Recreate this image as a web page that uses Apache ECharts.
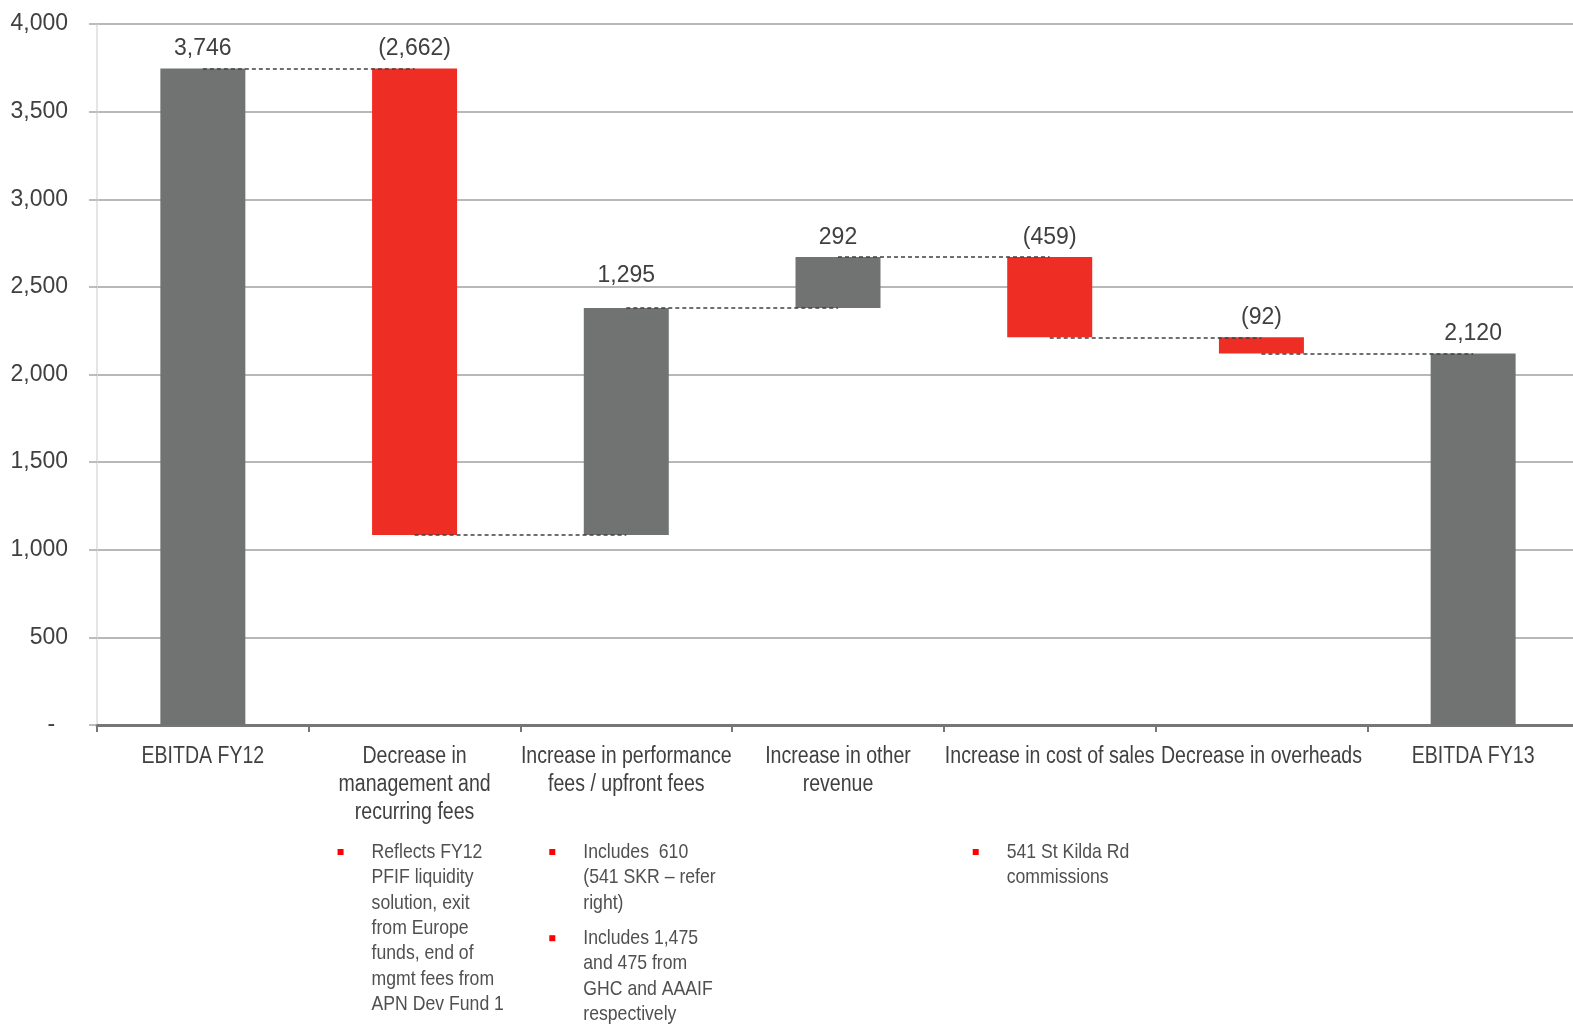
<!DOCTYPE html>
<html>
<head>
<meta charset="utf-8">
<title>EBITDA FY12 to FY13 bridge</title>
<script src="https://cdn.jsdelivr.net/npm/echarts@6/dist/echarts.min.js"></script>
<style>
  html, body { margin: 0; padding: 0; background: #ffffff; overflow: hidden; }
  /* the plot runs slightly past the right edge of the page */
  #chart { width: 1585px; height: 1028px; }
</style>
</head>
<body>
<div id="chart"></div>
<script>
// Bridge steps (A$'000)
const categories = [
  'EBITDA FY12',
  'Decrease in\nmanagement and\nrecurring fees',
  'Increase in performance\nfees / upfront fees',
  'Increase in other\nrevenue',
  'Increase in cost of sales',
  'Decrease in overheads',
  'EBITDA FY13'
];
const values = [3746, -2662, 1295, 292, -459, -92, 2120];
const isTotal = [true, false, false, false, false, false, true];
const yTicks = [0, 500, 1000, 1500, 2000, 2500, 3000, 3500, 4000];

// Bullet notes under selected categories
const notes = [
  { cat: 1, items: ['Reflects FY12\nPFIF liquidity\nsolution, exit\nfrom Europe\nfunds, end of\nmgmt fees from\nAPN Dev Fund 1'] },
  { cat: 2, items: ['Includes  610\n(541 SKR \u2013 refer\nright)', 'Includes 1,475\nand 475 from\nGHC and AAAIF\nrespectively'] },
  { cat: 4, items: ['541 St Kilda Rd\ncommissions'] }
];

const GREY = '#717372';
const RED = '#EE2E24';
const TEXT = '#404040';
const FONT = "'Liberation Sans Narrow', 'Arial Narrow', 'Liberation Sans', Arial, sans-serif";
const NARROW = 0.85; // horizontal squeeze for the condensed caption type

// Running totals -> invisible base + visible bar
const base = [], shown = [], ends = [];
let run = 0;
values.forEach((v, i) => {
  if (isTotal[i]) {
    base.push(0); shown.push(v); run = v;
  } else {
    const start = run, end = run + v;
    base.push(Math.min(start, end));
    shown.push(Math.abs(v));
    run = end;
  }
  ends.push(run);
});

const fmt = n => Math.abs(n).toLocaleString('en-US');

const connectors = [];
for (let i = 0; i < categories.length - 1; i++) {
  connectors.push([
    { coord: [categories[i], ends[i]] },
    { coord: [categories[i + 1], ends[i]] }
  ]);
}

const chart = echarts.init(document.getElementById('chart'), null, { renderer: 'canvas' });

chart.setOption({
  animation: false,
  backgroundColor: '#ffffff',
  textStyle: { fontFamily: FONT },
  grid: { left: 97, top: 24, right: 6, bottom: 303, containLabel: false },
  xAxis: {
    type: 'category',
    data: categories,
    boundaryGap: true,
    axisLine: { show: true, lineStyle: { color: '#767676', width: 3 } },
    axisTick: { show: true, alignWithLabel: false, length: 7, lineStyle: { color: '#767676', width: 2 } },
    axisLabel: { show: false },
    splitLine: { show: false }
  },
  yAxis: {
    type: 'value',
    min: 0,
    max: 4000,
    interval: 500,
    axisLine: { show: true, lineStyle: { color: '#dcdcdc', width: 1.5 } },
    axisTick: { show: true, length: 8, lineStyle: { color: '#a8a8a8', width: 1.5 } },
    axisLabel: {
      margin: 29,
      color: TEXT,
      fontFamily: FONT,
      fontSize: 23,
      formatter: v => (yTicks.includes(v) ? (v === 0 ? '-  ' : fmt(v)) : '')
    },
    splitLine: { show: true, lineStyle: { color: '#a0a0a0', width: 1.5 } }
  },
  series: [
    {
      name: 'base',
      type: 'bar',
      stack: 'bridge',
      data: base,
      barWidth: 85,
      itemStyle: { color: 'transparent' },
      emphasis: { disabled: true },
      silent: true
    },
    {
      name: 'change',
      type: 'bar',
      stack: 'bridge',
      barWidth: 85,
      data: shown.map((v, i) => ({
        value: v,
        itemStyle: { color: (!isTotal[i] && values[i] < 0) ? RED : GREY },
        // the performance-fee label sits a little higher than the rest
        label: i === 2 ? { distance: 21 } : undefined
      })),
      label: {
        show: true,
        position: 'top',
        distance: 8,
        color: TEXT,
        fontFamily: FONT,
        fontSize: 23,
        formatter: p => {
          const v = values[p.dataIndex];
          return v < 0 ? '(' + fmt(v) + ')' : fmt(v);
        }
      },
      emphasis: { disabled: true }
    },
    {
      name: 'connectors',
      type: 'line',
      data: categories.map(() => '-'),
      symbol: 'none',
      z: 10,
      silent: true,
      markLine: {
        silent: true,
        symbol: ['none', 'none'],
        label: { show: false },
        lineStyle: { color: '#404040', width: 1.5, type: [4, 3] },
        emphasis: { disabled: true },
        data: connectors
      }
    }
  ]
});

// Category captions and bullet notes, placed under their columns
function drawCaptions() {
  const zeroY = chart.convertToPixel({ yAxisIndex: 0 }, 0);
  const elements = [];

  categories.forEach(c => {
    const cx = chart.convertToPixel({ xAxisIndex: 0 }, c);
    elements.push({
      type: 'text',
      x: cx,
      y: zeroY + 18,
      scaleX: NARROW,
      style: {
        text: c,
        fill: TEXT,
        font: '23px ' + FONT,
        lineHeight: 28,
        align: 'center',
        verticalAlign: 'top'
      },
      silent: true
    });
  });

  const lineH = 25.4;
  notes.forEach(n => {
    const cx = chart.convertToPixel({ xAxisIndex: 0 }, categories[n.cat]);
    let y = zeroY + 127;
    n.items.forEach(txt => {
      const lines = txt.split('\n').length;
      elements.push({
        type: 'rect',
        shape: { x: cx - 77, y: y - 3, width: 6, height: 6 },
        style: { fill: '#ff0000' },
        silent: true
      });
      elements.push({
        type: 'text',
        x: cx - 43,
        y: y - lineH / 2,
        scaleX: 0.84,
        style: {
          text: txt,
          fill: '#505050',
          font: '21px ' + FONT,
          lineHeight: lineH,
          verticalAlign: 'top',
          align: 'left'
        },
        silent: true
      });
      y += lines * lineH + 10;
    });
  });
  chart.setOption({ graphic: { elements } });
}
drawCaptions();
</script>
</body>
</html>
